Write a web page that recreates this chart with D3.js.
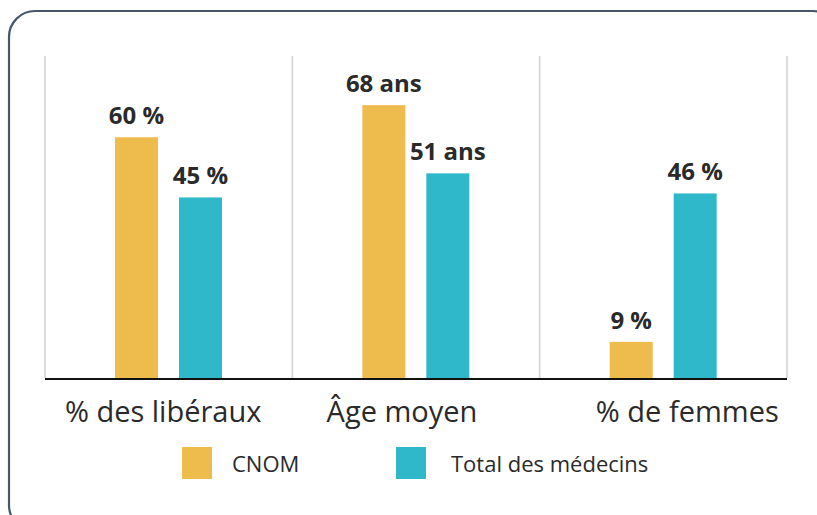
<!DOCTYPE html>
<html lang="fr">
  <head>
    <meta charset="utf-8" />
    <title>CNOM</title>
    <style>
      body { margin: 0; background: #fff; }
      svg text { font-family: "Open Sans", sans-serif; fill: #2a2a2a; }
    </style>
  </head>
  <body>
    <div id="vis"></div>
    <script src="https://d3js.org/d3.v7.min.js"></script>
    <script>
      const categories = ["% des libéraux", "Âge moyen", "% de femmes"];
      const series = ["CNOM", "Total des médecins"];
      const cnom = [60, 68, 9];
      const total = [45, 51, 46];
      const units = [" %", " ans", " %"];
      const colors = ["#eebb4d", "#2eb8c9"];

      const width = 817, height = 515;
      const svg = d3.select("#vis").append("svg").attr("width", width).attr("height", height);

      // cadre arrondi, coupé à droite et en bas
      svg.append("rect")
        .attr("x", 9).attr("y", 11).attr("width", 830).attr("height", 520)
        .attr("rx", 26).attr("fill", "none").attr("stroke", "#48566b").attr("stroke-width", 2.2);

      const x = d3.scaleBand().domain(categories).range([45, 787]);
      const xs = d3.scaleBand().domain(series).range([70, 177]).paddingInner(21 / 64);
      const y = d3.scaleLinear().domain([0, 80]).range([378, 57]);

      // séparateurs verticaux
      const edges = categories.map(c => x(c)).concat([x.range()[1]]);
      svg.append("g").selectAll("line").data(edges).join("line")
        .attr("x1", d => d).attr("x2", d => d)
        .attr("y1", y(80) - 1).attr("y2", y(0))
        .attr("stroke", "#d3d3d3").attr("stroke-width", 1.6);

      const rows = categories.map((c, i) => [
        { cat: c, s: series[0], v: cnom[i], u: units[i] },
        { cat: c, s: series[1], v: total[i], u: units[i] }
      ]).flat();

      svg.append("g").selectAll("rect").data(rows).join("rect")
        .attr("x", d => x(d.cat) + xs(d.s))
        .attr("y", d => y(d.v))
        .attr("width", xs.bandwidth())
        .attr("height", d => y(0) - y(d.v))
        .attr("fill", d => colors[series.indexOf(d.s)]);

      svg.append("g").selectAll("text").data(rows).join("text")
        .attr("x", d => x(d.cat) + xs(d.s) + xs.bandwidth() / 2)
        .attr("y", d => y(d.v) - 13)
        .attr("text-anchor", "middle")
        .attr("font-size", 24).attr("font-weight", 700)
        .text(d => d.v + d.u);

      // axe
      svg.append("line")
        .attr("x1", 45).attr("x2", 787).attr("y1", y(0) + 1).attr("y2", y(0) + 1)
        .attr("stroke", "#111").attr("stroke-width", 2);

      const labelShift = [-5.5, -14, 24];
      svg.append("g").selectAll("text").data(categories).join("text")
        .attr("x", (d, i) => x(d) + x.bandwidth() / 2 + labelShift[i])
        .attr("y", 422)
        .attr("text-anchor", "middle")
        .attr("font-size", 29)
        .text(d => d);

      // légende
      const legendX = [182, 396];
      const legendTextX = [50, 55];
      const legend = svg.append("g").selectAll("g").data(series).join("g")
        .attr("transform", (d, i) => `translate(${legendX[i]},447)`);
      legend.append("rect").attr("width", 30).attr("height", 32)
        .attr("fill", (d, i) => colors[i]);
      legend.append("text").attr("x", (d, i) => legendTextX[i]).attr("y", 25)
        .attr("font-size", 22).text(d => d);
    </script>
  </body>
</html>
